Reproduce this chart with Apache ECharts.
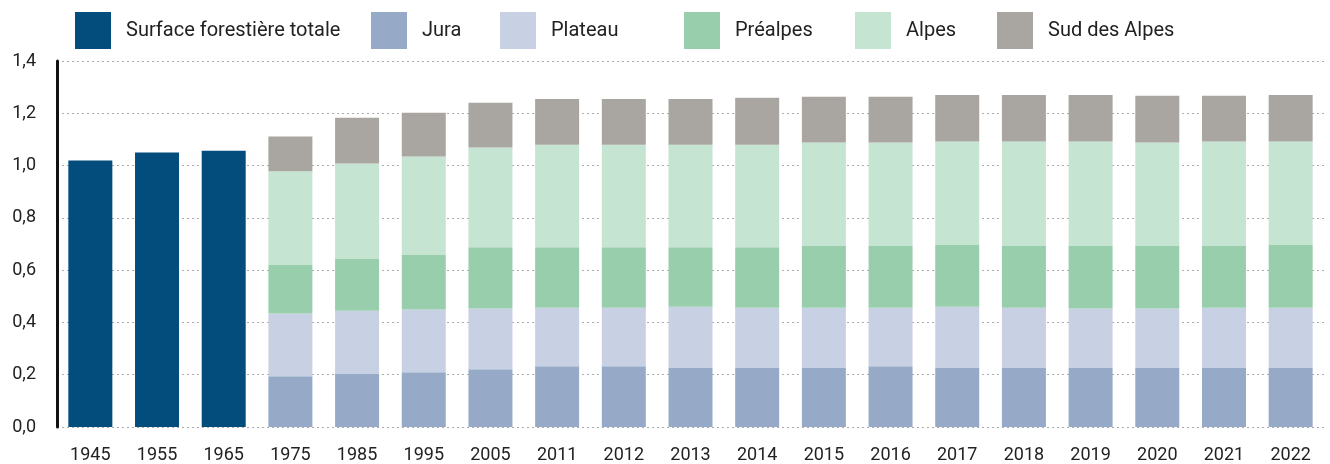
<!DOCTYPE html>
<html>
<head>
<meta charset="utf-8">
<script src="https://cdn.jsdelivr.net/npm/echarts@6/dist/echarts.min.js"></script>
<style>
  html, body { margin: 0; padding: 0; background: #fff; }
  #chart { width: 1330px; height: 464px; }
</style>
</head>
<body>
<div id="chart"></div>
<script>
// années
var years = ['1945','1955','1965','1975','1985','1995','2005','2011','2012','2013','2014','2015','2016','2017','2018','2019','2020','2021','2022'];

// surface totale (seulement les premières années)
var totale = [1.019, 1.050, 1.057, null, null, null, null, null, null, null, null, null, null, null, null, null, null, null, null];

// régions
var jura     = [null, null, null, 0.194, 0.205, 0.209, 0.221, 0.232, 0.232, 0.228, 0.228, 0.228, 0.232, 0.228, 0.228, 0.228, 0.228, 0.228, 0.228];
var plateau  = [null, null, null, 0.240, 0.240, 0.240, 0.232, 0.224, 0.224, 0.232, 0.228, 0.228, 0.224, 0.232, 0.228, 0.225, 0.225, 0.228, 0.228];
var prealpes = [null, null, null, 0.186, 0.198, 0.209, 0.235, 0.232, 0.232, 0.228, 0.232, 0.236, 0.236, 0.236, 0.236, 0.239, 0.239, 0.236, 0.240];
var alpes    = [null, null, null, 0.358, 0.365, 0.377, 0.381, 0.392, 0.392, 0.392, 0.392, 0.396, 0.396, 0.396, 0.400, 0.400, 0.396, 0.400, 0.396];
var sudAlpes = [null, null, null, 0.133, 0.175, 0.167, 0.171, 0.175, 0.175, 0.175, 0.179, 0.175, 0.175, 0.178, 0.178, 0.178, 0.179, 0.175, 0.178];

var legendNames = ['Surface forestière totale', 'Jura', 'Plateau', 'Préalpes', 'Alpes', 'Sud des Alpes'];
var legendLeft  = [75, 371, 500, 684, 855, 997];

var fontName = 'Roboto';

function barSerie(name, data, color) {
  return {
    name: name,
    type: 'bar',
    stack: 'total',
    barWidth: 44,
    data: data,
    itemStyle: { color: color },
    emphasis: { disabled: true }
  };
}

// une légende par élément pour les placer comme sur l'original
var legends = legendNames.map(function (n, i) {
  return {
    top: 12,
    left: legendLeft[i],
    padding: 0,
    itemWidth: 36,
    itemHeight: 37,
    icon: 'rect',
    textStyle: { fontSize: 20, color: '#222', fontFamily: fontName, padding: [0, 0, 0, 10] },
    data: [n]
  };
});

var myChart = echarts.init(document.getElementById('chart'));
var option = {
  animation: false,
  textStyle: { fontFamily: fontName },
  legend: legends,
  grid: { left: 57, right: 6, top: 61, bottom: 35 },
  xAxis: {
    type: 'category',
    data: years,
    axisLine: { show: false },
    axisTick: { show: false },
    axisLabel: { fontSize: 18, color: '#222', margin: 19 }
  },
  yAxis: {
    type: 'value',
    min: 0,
    max: 1.4,
    interval: 0.2,
    axisLine: { show: true, lineStyle: { color: '#111', width: 3 } },
    axisTick: { show: false },
    axisLabel: {
      fontSize: 18,
      color: '#222',
      margin: 21,
      formatter: function (v) { return v.toFixed(1).replace('.', ','); }
    },
    splitLine: { show: true, lineStyle: { color: '#aaa', type: [2, 3], width: 1 } }
  },
  series: [
    barSerie('Surface forestière totale', totale, '#024d7c'),
    barSerie('Jura', jura, '#96aac8'),
    barSerie('Plateau', plateau, '#c8d1e3'),
    barSerie('Préalpes', prealpes, '#99cead'),
    barSerie('Alpes', alpes, '#c6e4d2'),
    barSerie('Sud des Alpes', sudAlpes, '#a9a6a1')
  ]
};
myChart.setOption(option);
</script>
</body>
</html>
